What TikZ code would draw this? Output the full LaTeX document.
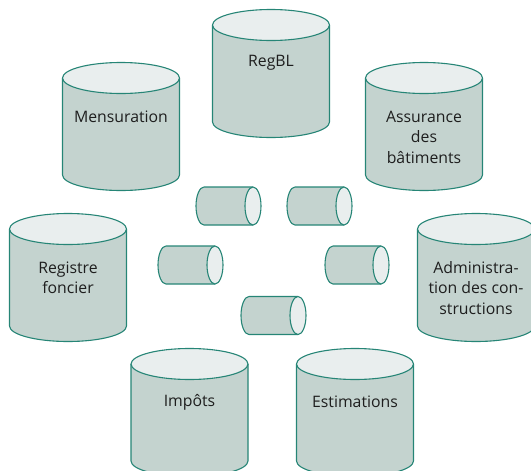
\documentclass[tikz,border=0pt]{standalone}
\usepackage{fontspec}
\setmainfont{Open Sans}
\definecolor{bodyc}{RGB}{196,211,207}
\definecolor{topc}{RGB}{233,238,238}
\definecolor{edgec}{RGB}{38,133,118}
\definecolor{txtc}{RGB}{30,30,30}
\newcommand\vcyl[5]{%
  % #1 name, #2 cx, #3 top-ellipse centre y, #4 label y, #5 label
  \fill[bodyc] (#2-58.5,#3) -- (#2-58.5,#3+97) arc[start angle=180,end angle=0,x radius=58.5,y radius=15.5] -- (#2+58.5,#3) -- cycle;
  \draw[edge] (#2-58.5,#3) -- (#2-58.5,#3+97) arc[start angle=180,end angle=0,x radius=58.5,y radius=15.5] -- (#2+58.5,#3);
  \filldraw[edge,fill=topc] (#2,#3) ellipse[x radius=58.5,y radius=15.5];
  \node[lbl] (#1) at (#2,#4) {#5};
}
\newcommand\hcyl[4]{%
  % #1 name, #2 left centre x, #3 right centre x, #4 centre y
  \filldraw[edge,fill=bodyc] (#3,#4-19) -- (#2,#4-19) arc[start angle=270,end angle=90,x radius=8,y radius=19] -- (#3,#4+19);
  \filldraw[edge,fill=topc] (#3,#4) ellipse[x radius=8,y radius=19];
  \coordinate (#1) at ({(#2+#3)/2},#4);
}
\begin{document}
\begin{tikzpicture}[x=1pt,y=-1pt,
  edge/.style={draw=edgec,line width=1.1pt},
  lbl/.style={text=txtc,align=center,inner sep=0pt,font=\fontsize{15.8}{20.5}\selectfont}]
\useasboundingbox (0,0) rectangle (531,471);
\begin{scope}
\clip (0,0) rectangle (531,471);
\vcyl{regbl}{271}{25}{63}{RegBL}
\vcyl{mens}{121}{78}{117}{Mensuration}
\vcyl{assur}{424}{78}{137}{Assurance\\des\\bâtiments}
\vcyl{regf}{68}{229}{278}{Registre\\foncier}
\vcyl{admin}{476}{229}{288}{Administra-\\tion des con-\\structions}
\vcyl{impots}{189.5}{364}{402}{Impôts}
\vcyl{estim}{355}{364}{402}{Estimations}
\hcyl{c1}{204}{253}{206}
\hcyl{c2}{295}{344}{206}
\hcyl{c3}{166}{215}{265}
\hcyl{c4}{333}{381}{265}
\hcyl{c5}{249}{298}{315.5}
\end{scope}
\end{tikzpicture}
\end{document}
